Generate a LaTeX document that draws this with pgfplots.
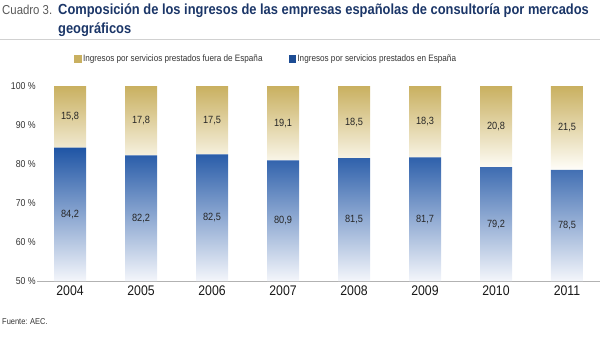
\documentclass[border=0pt]{standalone}
\usepackage{fontspec}
\setmainfont{Liberation Sans}[FakeStretch=0.88]
\usepackage{pgfplots}
\pgfplotsset{compat=1.18}
\usepackage{pgfplotstable}
\definecolor{bluetop}{HTML}{1F55A5}
\definecolor{bluebot}{HTML}{F4F6FB}
\definecolor{goldtop}{HTML}{C9B060}
\definecolor{goldbot}{HTML}{FFFEF9}
\definecolor{navy}{HTML}{1B3668}
\pgfplotstableread{
x esp fuera
0 84.2 15.8
1 82.2 17.8
2 82.5 17.5
3 80.9 19.1
4 81.5 18.5
5 81.7 18.3
6 79.2 20.8
7 78.5 21.5
}\data
\begin{document}
\begin{tikzpicture}
\path[use as bounding box] (0bp,0bp) rectangle (600bp,337bp);
\node[anchor=base west, inner sep=0pt, font=\fontsize{13}{14}\selectfont, text=black!65] at (2bp,322bp) {Cuadro 3.};
\node[anchor=base west, inner sep=0pt, font=\fontsize{14.7}{16}\selectfont\bfseries, text=navy] at (58bp,322bp) {Composición de los ingresos de las empresas españolas de consultoría por mercados};
\node[anchor=base west, inner sep=0pt, font=\fontsize{14.7}{16}\selectfont\bfseries, text=navy] at (58bp,303.5bp) {geográficos};
\draw[black!18, line width=0.8bp] (0bp,298bp) -- (600bp,298bp);
\node[anchor=base west, inner sep=0pt, font=\fontsize{8.5}{10}\selectfont, text=black!80] at (2bp,13bp) {Fuente: AEC.};
\begin{axis}[
  at={(37bp,56bp)}, anchor=south west,
  scale only axis, width=563bp, height=195bp,
  ybar stacked, bar width=32bp,
  xmin=-0.465, xmax=7.465, ymin=0, ymax=50,
  axis x line*=bottom, axis y line*=left,
  y axis line style={draw=none},
  x axis line style={draw=black!30, line width=0.9bp},
  major tick length=0pt,
  xtick={0,...,7},
  xticklabels={2004,2005,2006,2007,2008,2009,2010,2011},
  ytick={0,10,...,50},
  yticklabels={50 \%,60 \%,70 \%,80 \%,90 \%,100 \%},
  xticklabel style={font=\fontsize{14}{14}\selectfont, text=black!90, yshift=-1bp},
  yticklabel style={font=\fontsize{10}{10}\selectfont, text=black!80, inner sep=1bp},
  clip=false,
]
\addplot[draw=none, top color=bluetop, bottom color=bluebot] table[x=x, y expr=\thisrow{esp}-50]{\data};
\addplot[draw=none, top color=goldtop, bottom color=goldbot] table[x=x, y=fuera]{\data};
\end{axis}
\begin{axis}[
  at={(37bp,56bp)}, anchor=south west,
  scale only axis, width=563bp, height=195bp,
  xmin=-0.465, xmax=7.465, ymin=0, ymax=50,
  hide axis, clip=false,
  /pgf/number format/.cd, fixed, fixed zerofill, precision=1, use comma, assume math mode=true,
  /pgfplots/.cd,
  legend style={at={(axis description cs:0.407,1.138)}, anchor=center, draw=none, fill=none,
    font=\fontsize{9.3}{10}\selectfont, text=black!80, legend columns=2,
    /tikz/every even column/.append style={column sep=24bp}},
]
\addlegendimage{legend image code/.code={\fill[goldtop] (0bp,-3bp) rectangle (6.5bp,3.5bp);}}
\addlegendentry{Ingresos por servicios prestados fuera de España}
\addlegendimage{legend image code/.code={\fill[bluetop!90!black] (0bp,-3bp) rectangle (6.5bp,3.5bp);}}
\addlegendentry{Ingresos por servicios prestados en España}
\addplot[draw=none, mark=none, forget plot, nodes near coords, point meta=\thisrow{esp},
  every node near coord/.append style={anchor=center, font=\fontsize{10.5}{11}\selectfont, text=black!85}]
  table[x=x, y expr=(\thisrow{esp}-50)/2]{\data};
\addplot[draw=none, mark=none, forget plot, nodes near coords, point meta=\thisrow{fuera},
  every node near coord/.append style={anchor=center, font=\fontsize{10.5}{11}\selectfont, text=black!85}]
  table[x=x, y expr=\thisrow{esp}-50+\thisrow{fuera}/2]{\data};
\end{axis}
\end{tikzpicture}
\end{document}
